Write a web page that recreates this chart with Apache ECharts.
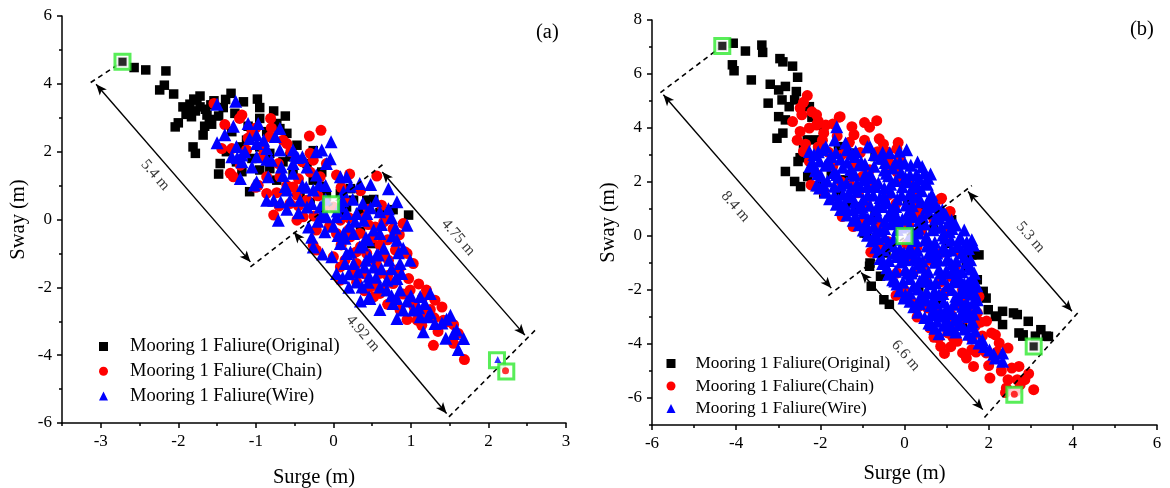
<!DOCTYPE html>
<html><head><meta charset="utf-8">
<script src="https://cdn.jsdelivr.net/npm/echarts@6/dist/echarts.min.js"></script>
<style>html,body{margin:0;padding:0;background:#fff}#c{width:1170px;height:488px}</style>
</head><body><div id="c"></div>
<script>
// ---------- names & ticks ----------
const seriesNames = ['Mooring 1 Faliure(Original)', 'Mooring 1 Faliure(Chain)', 'Mooring 1 Faliure(Wire)'];
const panelTags = ['(a)', '(b)'];
const surgeRangeA = [-3.5, 3];
const swayRangeA = [-6, 6];
const surgeRangeB = [-6, 6];
const swayRangeB = [-7, 8];
const surgeTicksA = [-3, -2, -1, 0, 1, 2, 3];
const surgeMinorA = [-3.5, -2.5, -1.5, -0.5, 0.5, 1.5, 2.5];
const swayTicksA = [-6, -4, -2, 0, 2, 4, 6];
const swayMinorA = [-5, -3, -1, 1, 3, 5];
const surgeTicksB = [-6, -4, -2, 0, 2, 4, 6];
const surgeMinorB = [-5, -3, -1, 1, 3, 5];
const swayTicksB = [-6, -4, -2, 0, 2, 4, 6, 8];
const swayMinorB = [-7, -5, -3, -1, 1, 3, 5, 7];

// ---------- panel (a) data [surge, sway] ----------
const originalA = [[-2.72,4.65],[-2.57,4.48],[-2.42,4.41],[-2.16,4.38],[-2.24,3.82],[-2.18,3.96],[-2.06,3.70],[-1.85,3.40],[-1.89,3.23],[-1.72,3.64],[-1.72,3.32],[-1.83,3.03],[-1.63,3.08],[-1.57,2.81],[-1.68,2.49],[-2.04,2.73],[-2.00,2.85],[-1.81,2.14],[-1.78,1.95],[-1.48,1.34],[-1.39,3.54],[-1.32,3.72],[-1.16,3.47],[-0.95,3.30],[-0.77,3.20],[-1.54,3.50],[-1.42,3.30],[-1.27,3.13],[-0.95,2.98],[-0.73,2.83],[-0.69,2.68],[-0.95,2.14],[-1.12,2.34],[-1.31,2.59],[-1.20,2.14],[-0.47,2.19],[-0.26,2.03],[-1.08,0.82],[-1.18,1.41],[-0.95,1.46],[-0.82,1.50],[-0.73,1.16],[-0.52,1.36],[-0.26,1.16],[-0.43,0.77],[-0.17,0.98],[-0.09,0.67],[0.09,0.77],[0.22,0.91],[0.26,0.57],[0.43,0.57],[0.52,0.59],[0.77,0.29],[0.97,0.13],[0.49,-0.71],[0.17,0.37],[-1.46,1.65],[-1.38,2.00],[-0.86,2.59],[-0.60,2.54],[-0.82,1.95],[-0.56,1.85],[-0.34,1.65],[-1.66,2.75],[-1.94,3.32],[-1.76,3.52],[-1.78,3.20],[-1.65,3.25],[-1.90,3.10],[-1.60,2.95],[-1.10,2.75],[-1.05,1.80],[-0.65,1.70],[-0.15,1.40],[0.35,0.20],[0.60,0.20],[0.35,-0.35],[0.10,0.10],[-0.30,0.50],[-1.25,1.70],[-1.80,3.55],[-1.58,3.38],[-1.48,3.05],[-0.98,3.55],[-0.62,3.05]];
const chainA = [[-1.54,3.42],[-1.18,3.08],[-1.21,2.98],[-0.81,2.98],[-0.16,2.63],[-0.31,2.46],[-1.44,2.09],[-1.31,2.09],[-1.29,1.26],[-1.33,1.36],[-0.82,2.44],[-0.65,2.34],[-0.60,2.24],[-0.30,1.95],[-0.26,1.75],[-0.09,1.65],[-0.71,1.65],[-0.86,1.26],[-0.97,1.01],[-0.86,0.77],[-0.73,0.79],[-0.77,0.13],[-0.47,0.72],[-0.34,0.57],[-0.39,0.08],[-0.17,1.26],[0.04,1.31],[0.21,1.34],[0.56,1.28],[0.62,0.42],[0.00,0.37],[0.09,-0.02],[-0.26,-0.76],[-0.22,-0.90],[0.04,-0.41],[0.22,-0.51],[0.34,-0.41],[0.54,-0.22],[0.65,-0.07],[0.77,-0.27],[0.90,-0.12],[0.92,-0.95],[1.03,-1.30],[0.71,-1.20],[0.43,-1.00],[0.26,-1.00],[0.09,-1.40],[0.00,-1.10],[0.09,-1.79],[0.30,-1.30],[0.56,-1.40],[0.60,-1.59],[0.47,-1.99],[0.60,-2.18],[0.77,-1.89],[0.97,-1.74],[0.99,-2.08],[0.77,-2.38],[0.52,-2.28],[0.86,-2.67],[1.03,-2.53],[1.20,-2.08],[1.31,-2.38],[1.40,-2.58],[1.16,-2.77],[1.08,-2.97],[1.20,-2.87],[1.42,-2.97],[1.29,-3.71],[1.61,-3.36],[1.69,-4.13],[1.14,-3.12],[1.46,-3.02],[-0.22,-0.31],[-0.47,-0.02],[-0.56,0.47],[-0.13,0.32],[-0.52,0.96],[-1.12,2.05],[-0.92,1.85],[-0.69,1.26],[-1.05,2.60],[-0.90,2.10],[-0.45,1.20],[-0.20,0.70],[0.15,0.55],[0.40,0.05],[0.70,-0.60],[0.35,-0.80],[0.10,-0.75],[0.80,-0.90],[0.65,-1.05],[0.25,-1.60],[0.85,-1.45],[1.10,-1.90],[0.70,-2.50],[0.95,-2.95],[1.35,-3.30],[0.40,-2.10],[-0.60,1.00],[-1.00,2.70],[-0.55,2.00],[0.35,0.85],[-0.05,-0.20],[0.50,-0.55],[-0.45,0.40],[-0.25,0.10],[0.20,0.05],[0.45,-0.15],[0.70,0.10],[0.85,-0.45],[0.60,-0.75],[0.30,-0.95],[0.15,-1.20],[0.40,-1.60],[0.70,-1.65],[0.90,-2.20],[1.15,-2.30],[1.25,-2.65],[1.55,-3.10],[1.55,-3.65],[0.55,-1.95],[-0.80,2.70],[-1.40,2.80],[-1.10,2.40],[-0.40,1.70],[-1.00,0.95],[-0.70,0.40],[0.95,-1.00],[-1.20,1.60],[-0.30,1.40],[0.10,0.95],[0.45,0.30],[0.20,-0.30],[0.55,-1.25],[0.30,-1.85],[0.65,-2.05],[1.05,-2.70],[1.30,-2.90]];
const wireA = [[-1.50,3.40],[-1.26,3.49],[-1.29,2.75],[-1.10,2.83],[-0.97,2.83],[-0.69,2.68],[-1.50,2.26],[-1.08,2.39],[-0.99,2.24],[-0.90,2.34],[-0.86,2.09],[-1.31,1.85],[-1.18,1.90],[-1.18,1.70],[-0.99,1.85],[-0.69,2.05],[-0.52,2.05],[-0.49,1.90],[-0.22,2.00],[-0.15,2.05],[-0.03,2.29],[-1.20,1.21],[-0.99,1.11],[-0.86,0.57],[-0.71,-0.02],[-0.77,0.57],[-0.84,1.26],[-0.67,1.55],[-0.52,1.65],[-0.34,1.55],[-0.22,1.31],[-0.09,1.65],[0.09,1.26],[0.17,1.26],[0.34,1.06],[0.13,0.82],[-0.60,0.87],[-0.56,0.57],[-0.43,0.57],[-0.34,0.37],[-0.32,-0.22],[-0.17,0.37],[-0.09,0.08],[0.04,0.08],[0.17,0.18],[0.30,0.18],[0.43,0.18],[0.60,0.23],[0.71,0.91],[0.71,0.32],[0.95,-0.17],[0.82,-0.61],[0.99,-1.20],[0.86,-1.30],[0.88,-1.59],[0.69,-1.79],[0.52,-1.40],[0.47,-1.10],[0.34,-0.81],[0.26,-0.41],[0.13,-0.41],[0.09,-0.71],[0.17,-1.00],[0.26,-1.30],[-0.02,-1.10],[-0.11,-0.36],[-0.26,-0.81],[0.04,-1.59],[0.30,-1.84],[0.37,-1.99],[0.47,-2.33],[0.60,-1.99],[0.69,-2.08],[0.86,-2.08],[0.77,-2.48],[0.90,-2.67],[1.03,-2.67],[1.12,-2.87],[1.25,-2.18],[1.18,-2.48],[1.31,-3.07],[1.16,-3.31],[1.51,-2.82],[1.55,-3.36],[1.59,-3.26],[1.68,-3.51],[1.61,-3.83],[0.52,-0.31],[0.60,-0.41],[0.39,-0.02],[-0.52,1.36],[-0.26,0.87],[-0.99,2.49],[-1.14,2.00],[-0.40,1.00],[-0.10,0.60],[0.00,-0.20],[0.20,-0.20],[0.45,-0.60],[0.65,-0.85],[0.40,-1.40],[0.20,-1.60],[0.55,-1.70],[0.75,-1.45],[0.10,0.40],[-0.20,-0.05],[0.80,-0.25],[0.55,0.55],[-0.65,1.30],[-0.80,1.75],[-1.05,1.55],[1.00,-2.25],[0.60,-2.65],[-0.45,0.20],[0.25,0.60],[0.90,-0.85],[0.35,-2.40],[-0.35,0.95],[-0.15,0.15],[0.05,0.25],[0.28,-0.05],[0.48,0.35],[0.62,-0.15],[0.75,0.05],[0.15,-0.55],[0.38,-0.75],[0.58,-1.05],[0.72,-1.20],[0.42,-1.20],[0.15,-1.30],[0.32,-1.55],[0.62,-1.45],[0.80,-1.75],[0.45,-1.85],[0.75,-2.25],[0.95,-2.40],[1.10,-2.60],[1.25,-2.75],[1.40,-3.05],[1.45,-3.50],[0.20,-2.00],[-0.40,1.85],[-0.75,2.45],[-1.25,2.15],[-1.40,2.50],[-0.60,0.30],[-0.10,1.00],[-1.24,1.82],[-0.86,1.78],[-0.46,1.83],[-0.04,1.79],[-1.02,1.02],[-0.62,0.97],[-0.18,1.04],[0.22,0.98],[0.48,1.03],[-0.68,0.52],[-0.28,0.47],[0.12,0.55],[0.38,0.48],[0.82,0.52],[-0.28,-0.52],[0.06,-0.47],[0.42,-0.53],[0.76,-0.48],[-0.14,-1.02],[0.22,-0.96],[0.56,-1.03],[0.84,-0.98],[0.12,-1.72],[0.46,-1.67],[0.82,-1.74],[0.46,-2.28],[0.82,-2.33],[1.12,-2.27],[0.82,-2.92],[1.22,-2.87],[1.46,-2.94]];

// ---------- panel (b) data [surge, sway] ----------
const originalB = [[-4.33,7.04],[-4.07,7.14],[-3.78,6.85],[-3.39,7.07],[-3.37,6.80],[-2.96,6.57],[-2.89,6.45],[-2.66,6.29],[-2.54,5.88],[-4.09,6.34],[-4.05,6.12],[-3.64,5.78],[-3.19,5.62],[-3.24,4.92],[-2.99,5.41],[-2.83,5.54],[-2.91,5.04],[-2.74,4.79],[-2.57,5.35],[-2.61,5.04],[-2.99,4.42],[-2.83,4.30],[-2.89,3.81],[-3.03,3.62],[-2.44,4.79],[-2.26,4.79],[-2.31,3.56],[-2.53,2.76],[-2.83,2.39],[-2.61,2.02],[-2.47,1.83],[-2.09,1.83],[-1.92,1.59],[-0.96,0.11],[-0.83,-1.12],[-0.79,-1.86],[-0.49,-2.36],[-0.36,-2.53],[-0.44,-0.63],[-0.57,-1.49],[1.60,-0.70],[1.77,-0.70],[1.94,-2.30],[1.99,-2.73],[2.16,-2.97],[2.33,-2.79],[2.33,-3.28],[2.59,-2.85],[2.68,-2.91],[2.94,-3.16],[2.72,-3.59],[2.81,-3.71],[3.24,-3.47],[3.37,-3.71],[3.11,-3.71],[3.07,-4.09],[1.64,-3.10],[1.38,-3.34],[1.73,-1.62],[1.47,-1.12],[-1.22,3.07],[-0.70,2.94],[-0.53,2.82],[-1.57,3.31],[-1.92,3.93],[-2.09,3.56],[-1.74,2.33],[-1.40,2.08],[-1.14,1.09],[-0.70,0.85],[0.08,1.22],[0.34,0.97],[0.68,0.23],[1.12,0.60],[1.03,-0.27],[0.51,-1.73],[0.86,-2.36],[0.34,-1.99],[0.68,-2.97],[1.03,-3.10],[1.29,-2.36],[3.42,-3.72],[2.82,-3.66],[2.19,-2.98],[1.87,-2.05],[0.77,-2.85],[1.08,-3.16],[-2.20,4.40],[-2.40,3.20],[-1.80,2.60],[-1.60,1.50],[-1.30,1.20],[-2.48,2.90],[-2.30,2.20],[-0.90,0.11],[-0.82,-1.00]];
const chainB = [[-2.31,5.20],[-2.48,4.74],[-2.44,4.49],[-2.66,4.24],[-2.09,4.49],[-2.09,4.11],[-1.87,4.11],[-1.55,4.40],[-2.48,3.87],[-2.26,4.00],[-1.92,3.81],[-0.83,4.03],[-0.66,4.27],[-0.64,3.12],[-0.18,3.23],[-0.36,2.70],[-1.05,3.09],[-1.31,3.47],[-1.40,3.09],[-2.40,3.13],[-2.26,2.76],[-2.22,1.89],[-1.92,1.65],[-1.22,2.57],[-0.83,2.45],[-0.36,2.57],[-0.10,2.76],[-0.18,2.38],[-0.14,2.01],[-1.48,0.72],[-1.22,0.35],[-1.05,0.48],[-0.62,-0.39],[-0.66,0.48],[0.25,1.71],[0.34,0.85],[0.86,1.37],[1.08,0.90],[0.81,0.72],[1.00,0.10],[-0.10,-0.63],[0.08,-0.76],[-0.18,-1.37],[-0.01,-1.99],[0.16,-2.42],[0.34,-2.61],[0.55,-2.67],[0.76,-2.80],[0.95,-2.11],[1.03,-1.99],[1.38,-1.99],[1.25,-2.55],[1.81,-3.19],[1.68,-3.34],[2.07,-3.59],[0.81,-3.78],[0.86,-4.09],[1.03,-3.59],[1.38,-4.33],[1.47,-4.52],[1.60,-4.21],[1.64,-4.83],[1.94,-4.33],[2.03,-5.26],[2.25,-3.96],[2.46,-4.15],[2.55,-4.89],[2.72,-4.83],[2.46,-5.32],[2.68,-5.32],[2.86,-5.32],[2.42,-5.63],[2.64,-5.75],[3.07,-5.69],[2.16,-3.66],[1.73,-2.85],[1.77,-2.24],[1.21,-1.12],[-1.70,2.60],[-1.50,2.00],[-1.10,1.60],[-0.90,1.20],[-0.40,1.50],[-0.30,0.80],[0.10,0.40],[-0.40,-0.20],[0.30,-0.40],[0.60,-0.90],[0.20,-1.40],[0.50,-1.60],[1.10,-1.50],[0.90,-0.60],[0.40,0.20],[-0.70,1.90],[-1.00,2.20],[-1.80,3.10],[-0.50,3.40],[0.10,2.10],[0.55,0.95],[1.30,-0.60],[1.50,-2.80],[1.20,-3.20],[0.30,-3.00],[-0.20,-2.20],[-0.80,-0.60],[1.60,-3.80],[2.20,-4.30],[-2.40,4.95],[-2.20,4.60],[-2.05,4.25],[-1.70,4.15],[-1.95,3.55],[-1.60,3.70],[-1.20,3.75],[-0.95,3.55],[-2.55,3.55],[-2.35,3.40],[-1.50,3.00],[-0.40,3.10],[-0.60,3.60],[-2.10,2.30],[-1.30,1.90],[-0.20,1.20],[0.25,1.30],[0.70,0.60],[-0.55,0.20],[0.05,-0.30],[0.45,-1.20],[0.85,-1.70],[1.35,-2.30],[1.10,-2.90],[0.60,-3.40],[1.25,-3.90],[1.85,-3.70],[2.00,-4.80],[2.30,-5.00],[2.75,-5.50],[2.40,-5.80],[2.95,-5.10],[0.95,-4.35],[1.15,-3.75],[-1.53,4.42],[-0.15,3.46],[-0.11,2.82],[0.88,1.40],[1.08,0.91],[-0.66,-0.20],[-2.05,3.30],[-1.25,4.05],[-0.95,4.20],[1.45,-3.05],[1.95,-3.15],[1.70,-4.30],[0.70,-3.75],[1.10,-4.10]];
const wireB = [[-1.61,4.05],[-2.26,3.13],[-1.87,3.31],[-1.66,3.56],[-1.40,3.44],[-0.88,3.31],[-1.18,2.94],[-1.74,2.94],[-2.09,1.89],[-1.93,3.19],[-1.37,3.19],[-0.82,3.31],[0.05,3.19],[-0.11,2.76],[0.42,2.57],[0.56,2.14],[0.25,1.83],[0.08,2.01],[0.68,1.16],[0.90,0.97],[1.03,0.48],[1.29,-0.39],[1.60,-0.14],[1.64,-0.33],[1.55,-1.12],[1.64,-1.86],[1.73,-2.36],[1.55,-2.85],[1.77,-3.96],[1.90,-4.09],[2.16,-4.52],[2.33,-4.33],[2.33,-4.64],[1.03,-3.47],[0.77,-3.16],[0.64,-3.28],[0.86,-2.80],[0.51,-2.11],[0.34,-2.36],[-0.01,-2.30],[-0.23,-1.67],[-0.36,-1.36],[-0.49,-0.99],[-0.70,0.06],[-0.92,0.48],[-1.22,0.97],[-1.40,1.09],[-1.57,1.34],[-1.05,1.83],[-0.70,1.83],[-0.53,1.09],[-0.36,0.85],[-0.18,0.60],[0.16,0.72],[0.34,0.11],[0.51,-0.14],[0.77,-0.63],[1.03,-0.88],[1.12,-1.36],[1.29,-1.61],[1.38,-1.99],[1.38,-2.60],[1.21,-3.10],[0.95,-2.85],[0.68,-2.36],[0.16,-1.37],[0.34,-0.88],[-0.01,-0.63],[0.16,-0.63],[-2.02,2.78],[-1.52,2.85],[-1.03,2.74],[-0.58,2.88],[-0.22,2.70],[-2.12,2.42],[-1.68,2.35],[-1.28,2.46],[-0.93,2.31],[-0.48,2.44],[-0.08,2.36],[0.28,2.28],[-1.83,2.04],[-1.38,1.96],[-0.97,2.08],[-0.62,1.97],[-0.21,2.06],[0.48,1.94],[-1.88,1.62],[-1.46,1.55],[-1.12,1.66],[-0.74,1.52],[-0.32,1.63],[0.12,1.57],[0.41,1.68],[-1.62,1.18],[-1.18,1.26],[-0.82,1.14],[-0.41,1.23],[0.03,1.15],[0.38,1.27],[0.72,1.22],[-1.37,0.78],[-0.98,0.86],[-0.63,0.74],[-0.22,0.83],[0.21,0.76],[0.58,0.85],[0.98,0.79],[-1.08,0.42],[-0.73,0.36],[-0.31,0.45],[0.12,0.37],[0.49,0.44],[0.87,0.33],[1.22,0.41],[-0.88,0.03],[-0.47,-0.04],[0.14,0.05],[0.52,-0.03],[0.91,0.04],[1.32,-0.05],[-0.68,-0.42],[-0.27,-0.36],[0.12,-0.44],[0.53,-0.37],[0.92,-0.43],[1.24,-0.38],[1.52,-0.46],[-0.58,-0.83],[-0.18,-0.76],[0.23,-0.84],[0.62,-0.77],[1.02,-0.82],[1.42,-0.78],[-0.42,-1.18],[0.02,-1.24],[0.41,-1.16],[0.82,-1.23],[1.21,-1.17],[1.58,-1.22],[-0.28,-1.62],[0.12,-1.57],[0.52,-1.64],[0.91,-1.58],[1.31,-1.66],[1.62,-1.55],[-0.12,-2.03],[0.32,-1.96],[0.71,-2.04],[1.12,-1.98],[1.52,-2.06],[0.13,-2.42],[0.52,-2.37],[0.93,-2.44],[1.32,-2.38],[1.63,-2.45],[0.32,-2.82],[0.72,-2.76],[1.12,-2.84],[1.42,-2.78],[0.58,-3.22],[1.02,-3.17],[1.32,-3.24],[1.62,-3.18],[0.82,-3.62],[1.22,-3.56],[1.52,-3.64],[-2.15,3.02],[-1.75,2.98],[-1.25,3.05],[-0.72,3.02],[-0.35,3.08],[-2.25,2.58],[-1.88,2.62],[-1.47,2.55],[-1.08,2.63],[-0.72,2.58],[-0.28,2.52],[0.15,2.62],[-1.98,2.22],[-1.57,2.18],[-1.17,2.25],[-0.78,2.16],[-0.38,2.23],[0.02,2.18],[0.35,2.12],[0.62,2.30],[-2.02,1.78],[-1.67,1.84],[-1.27,1.77],[-0.88,1.86],[-0.48,1.78],[-0.05,1.82],[0.30,1.88],[-1.78,1.38],[-1.35,1.45],[-0.98,1.36],[-0.58,1.43],[-0.17,1.37],[0.22,1.44],[0.58,1.38],[-1.52,0.98],[-1.08,1.04],[-0.68,0.96],[-0.27,1.03],[0.13,0.97],[0.52,1.05],[0.82,0.98],[-1.22,0.58],[-0.87,0.64],[-0.47,0.56],[-0.05,0.62],[0.35,0.57],[0.73,0.63],[1.12,0.58],[-0.98,0.22],[-0.58,0.18],[-0.17,0.24],[0.28,0.17],[0.68,0.23],[1.07,0.16],[1.42,0.22],[-0.78,-0.18],[-0.38,-0.24],[0.27,-0.17],[0.72,-0.23],[1.11,-0.16],[1.48,-0.22],[-0.62,-0.58],[-0.23,-0.64],[0.18,-0.57],[0.58,-0.63],[0.98,-0.56],[1.37,-0.62],[-0.52,-1.02],[-0.08,-0.96],[0.32,-1.03],[0.72,-0.97],[1.12,-1.04],[1.48,-0.98],[-0.38,-1.42],[0.07,-1.38],[0.46,-1.45],[0.86,-1.37],[1.26,-1.43],[1.66,-1.38],[-0.18,-1.78],[0.22,-1.84],[0.62,-1.77],[1.02,-1.83],[1.42,-1.76],[1.72,-1.84],[0.02,-2.18],[0.42,-2.24],[0.82,-2.17],[1.22,-2.23],[1.58,-2.16],[0.22,-2.62],[0.62,-2.57],[1.02,-2.64],[1.42,-2.58],[1.72,-2.66],[0.48,-3.02],[0.88,-2.97],[1.22,-3.04],[1.52,-2.98],[0.72,-3.42],[1.12,-3.37],[1.42,-3.44],[1.68,-3.52],[1.62,-3.78],[1.85,-3.85],[2.02,-4.22],[2.12,-4.38],[-2.05,3.12],[-1.63,3.08],[-1.16,3.13],[-0.52,3.09],[-0.12,3.14],[-2.18,2.71],[-1.77,2.68],[-1.36,2.73],[-0.94,2.67],[-0.46,2.72],[0.01,2.69],[0.31,2.74],[-2.06,2.31],[-1.61,2.28],[-1.23,2.33],[-0.81,2.29],[-0.43,2.32],[0.13,2.27],[0.47,2.33],[-1.93,1.91],[-1.51,1.88],[-1.13,1.93],[-0.71,1.89],[-0.33,1.92],[0.21,1.87],[0.54,1.92],[-1.67,1.51],[-1.29,1.48],[-0.87,1.53],[-0.49,1.49],[-0.07,1.52],[0.33,1.47],[0.65,1.53],[-1.43,1.11],[-1.01,1.08],[-0.63,1.13],[-0.21,1.09],[0.19,1.12],[0.61,1.08],[-1.17,0.71],[-0.79,0.68],[-0.37,0.73],[0.03,0.69],[0.43,0.72],[0.83,0.68],[-0.89,0.31],[-0.47,0.28],[-0.09,0.33],[0.33,0.29],[0.71,0.32],[1.13,0.28],[-0.64,-0.09],[-0.26,-0.12],[0.16,-0.08],[0.54,-0.11],[0.96,-0.07],[1.34,-0.12],[-0.49,-0.51],[-0.11,-0.48],[0.31,-0.53],[0.69,-0.49],[1.11,-0.52],[1.46,-0.48],[-0.37,-0.91],[0.03,-0.88],[0.43,-0.93],[0.81,-0.89],[1.23,-0.92],[1.57,-0.88],[-0.21,-1.31],[0.19,-1.28],[0.57,-1.33],[0.99,-1.29],[1.37,-1.32],[-0.04,-1.71],[0.36,-1.68],[0.74,-1.73],[1.16,-1.69],[1.51,-1.72],[0.13,-2.11],[0.53,-2.08],[0.91,-2.13],[1.33,-2.09],[1.67,-2.12],[0.36,-2.51],[0.74,-2.48],[1.16,-2.53],[1.49,-2.49],[0.63,-2.91],[1.01,-2.88],[1.33,-2.93],[1.64,-2.89],[0.93,-3.31],[1.29,-3.28],[1.56,-3.33]];

// ---------- annotations (data coordinates) ----------
const extremesA = [[-2.72,4.65],[-0.03,0.45],[2.11,-4.15],[2.23,-4.48]];
const innerPtsA = [[-2.72,4.65],[2.12,-4.13],[2.22,-4.46]];
const innerKindA = [0, 2, 1];
const dashedA = [[[-3.13,4.04],[-2.72,4.65]], [[-1.07,-1.40],[0.67,1.68]], [[1.49,-5.82],[2.60,-3.27]]];
const arrowsA = [[[-3.06,3.99],[-1.07,-1.25]], [[0.63,1.40],[2.47,-3.41]], [[-0.51,-0.37],[1.46,-5.72]]];
const distTextA = ['5.4 m', '4.75 m', '4.92 m'];
const distPosA = [[-2.30,1.31],[1.61,-0.53],[0.38,-3.36]];

const extremesB = [[-4.33,7.04],[0.0,0.0],[3.07,-4.09],[2.61,-5.88]];
const innerPtsB = [[-4.33,7.04],[3.07,-4.09],[2.61,-5.86]];
const innerKindB = [0, 0, 1];
const dashedB = [[[-5.80,5.31],[-4.33,7.04]], [[-1.81,-2.21],[1.60,1.87]], [[1.90,-6.72],[4.15,-2.79]]];
const arrowsB = [[[-5.73,5.23],[-1.74,-1.93]], [[1.51,1.65],[3.98,-2.79]], [[-1.03,-1.35],[1.86,-6.43]]];
const distTextB = ['8.4 m', '5.3 m', '6.6 m'];
const distPosB = [[-4.02,1.09],[2.99,-0.04],[0.03,-4.43]];

// ---------- styling ----------
const FONT = '"Liberation Serif","Times New Roman",serif';
const colors = ['#000000', '#ff0000', '#0000ff'];
const symbols = ['rect', 'circle', 'triangle'];
const sizes = [9.5, 11, 13];
const GREEN = '#2ee82e';

function xAxes(gi, range, major, minor, nameGap) {
  return [
    { gridIndex: gi, type: 'value', min: range[0], max: range[1], position: 'bottom',
      name: 'Surge (m)', nameLocation: 'middle', nameGap: nameGap,
      nameTextStyle: { fontFamily: FONT, fontSize: 20.5, color: '#000' },
      axisLine: { onZero: false, lineStyle: { color: '#000', width: 1.5 } },
      axisTick: { show: true, customValues: major, length: 5, lineStyle: { color: '#000', width: 1.5 } },
      axisLabel: { customValues: major, margin: 10, fontFamily: FONT, fontSize: 17, color: '#000' },
      splitLine: { show: false } },
    { gridIndex: gi, type: 'value', min: range[0], max: range[1], position: 'bottom',
      axisLine: { show: false, onZero: false },
      axisTick: { show: true, customValues: minor, length: 3, lineStyle: { color: '#000', width: 1.5 } },
      axisLabel: { show: false }, splitLine: { show: false } }
  ];
}
function yAxes(gi, range, major, minor, nameGap) {
  return [
    { gridIndex: gi, type: 'value', min: range[0], max: range[1], position: 'left',
      name: 'Sway (m)', nameLocation: 'middle', nameGap: nameGap, nameRotate: 90,
      nameTextStyle: { fontFamily: FONT, fontSize: 20.5, color: '#000' },
      axisLine: { onZero: false, lineStyle: { color: '#000', width: 1.5 } },
      axisTick: { show: true, customValues: major, length: 5, lineStyle: { color: '#000', width: 1.5 } },
      axisLabel: { customValues: major, margin: 10, fontFamily: FONT, fontSize: 17, color: '#000' },
      splitLine: { show: false } },
    { gridIndex: gi, type: 'value', min: range[0], max: range[1], position: 'left',
      axisLine: { show: false, onZero: false },
      axisTick: { show: true, customValues: minor, length: 3, lineStyle: { color: '#000', width: 1.5 } },
      axisLabel: { show: false }, splitLine: { show: false } }
  ];
}

function panelSeries(xi, yi, sets, extremes, innerPts, innerKind, dashed, arrows, texts, textPos) {
  const out = [];
  sets.forEach((d, k) => {
    out.push({ type: 'scatter', name: seriesNames[k], xAxisIndex: xi, yAxisIndex: yi,
      data: d, symbol: symbols[k], symbolSize: sizes[k], z: 2 + k,
      itemStyle: { color: colors[k], opacity: 1 }, emphasis: { disabled: true } });
  });
  out.push({ type: 'scatter', name: 'extreme', xAxisIndex: xi, yAxisIndex: yi, data: extremes,
    symbol: 'rect', symbolSize: 15, z: 6, silent: true,
    itemStyle: { color: '#ffffff', borderColor: GREEN, borderWidth: 3 } });
  out.push({ type: 'scatter', name: 'inner', xAxisIndex: xi, yAxisIndex: yi, z: 7, silent: true,
    data: innerPts.map((p, i) => ({ value: p, symbol: symbols[innerKind[i]],
      symbolSize: innerKind[i] === 0 ? 8 : 7, itemStyle: { color: colors[innerKind[i]] } })) });
  const lines = [];
  dashed.forEach(s => {
    const ls = { type: [5, 4], width: 1.6, color: '#000' };
    lines.push([{ coord: s[0], symbol: 'none', lineStyle: ls }, { coord: s[1], symbol: 'none', lineStyle: ls }]);
  });
  arrows.forEach(s => {
    const ls = { type: 'solid', width: 1.4, color: '#000' };
    lines.push([{ coord: s[0], symbol: 'arrow', symbolSize: [7, 11], lineStyle: ls },
                { coord: s[1], symbol: 'arrow', symbolSize: [7, 11], lineStyle: ls }]);
  });
  out.push({ type: 'scatter', name: 'notes', xAxisIndex: xi, yAxisIndex: yi, z: 8, silent: true,
    data: texts.map((t, i) => ({ name: t, value: textPos[i] })),
    symbolSize: 1, itemStyle: { color: 'rgba(0,0,0,0)' },
    label: { show: true, position: 'inside', formatter: p => p.name, rotate: -49,
      fontFamily: FONT, fontSize: 15.5, color: '#000' },
    markLine: { silent: true, animation: false, label: { show: false }, symbol: ['none', 'none'],
      emphasis: { disabled: true }, data: lines } });
  return out;
}

const chart = echarts.init(document.getElementById('c'), null, { renderer: 'canvas' });
function legendAt(left, top, fontSize, gap, padLeft) {
  return { orient: 'vertical', data: seriesNames, left: left, top: top, itemWidth: 9, itemHeight: 9,
    itemGap: gap, selectedMode: false,
    textStyle: { fontFamily: FONT, fontSize: fontSize, color: '#000', lineHeight: 18, padding: [0, 0, 0, padLeft] } };
}

chart.setOption({
  animation: false,
  backgroundColor: '#ffffff',
  grid: [
    { left: 62, top: 16, width: 504, height: 407, outerBoundsMode: 'none' },
    { left: 652, top: 20, width: 505, height: 405, outerBoundsMode: 'none' }
  ],
  xAxis: [].concat(xAxes(0, surgeRangeA, surgeTicksA, surgeMinorA, 44), xAxes(1, surgeRangeB, surgeTicksB, surgeMinorB, 38)),
  yAxis: [].concat(yAxes(0, swayRangeA, swayTicksA, swayMinorA, 33), yAxes(1, swayRangeB, swayTicksB, swayMinorB, 33)),
  legend: [
    legendAt(94, 332, 18.5, 5.8, 17),
    legendAt(661.5, 349.5, 17.2, 4.5, 15)
  ],
  graphic: [
    { type: 'text', left: 536, top: 22, style: { text: panelTags[0], font: '20.5px ' + FONT, fill: '#000' } },
    { type: 'text', left: 1130, top: 19, style: { text: panelTags[1], font: '20.5px ' + FONT, fill: '#000' } }
  ],
  series: [].concat(
    panelSeries(0, 0, [originalA, chainA, wireA], extremesA, innerPtsA, innerKindA, dashedA, arrowsA, distTextA, distPosA),
    panelSeries(2, 2, [originalB, chainB, wireB], extremesB, innerPtsB, innerKindB, dashedB, arrowsB, distTextB, distPosB)
  )
});
</script></body></html>
